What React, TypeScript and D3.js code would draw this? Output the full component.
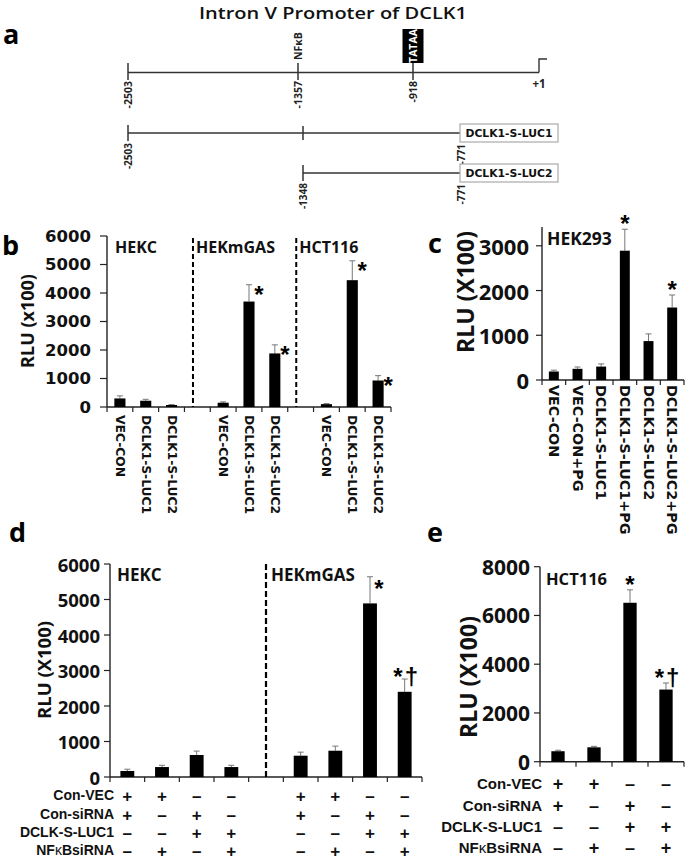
import React from "react";
import * as d3 from "d3";

const OS = "'Open Sans', sans-serif";
const DJ = "'DejaVu Sans', sans-serif";
const LS = "'Liberation Sans', Arial, sans-serif";

// ---------- Panel a data ----------
const titleText = "Intron V Promoter of DCLK1";
const mapPositions = [-2503, -1357, -1348, -918, -771, 1];
const mainSites = [
  { pos: -2503, label: "-2503" },
  { pos: -1357, label: "-1357" },
  { pos: -918, label: "-918" },
];
const tssLabel = "+1";
const nfkbLabel = "NFκB";
const tataLabel = "TATAA";
const constructNames = ["DCLK1-S-LUC1", "DCLK1-S-LUC2"];
const constructStarts = [-2503, -1348];
const constructEnds = [-771, -771];
const constructMids = [-1348, null];

// ---------- Panel b data ----------
const bGroups = ["HEKC", "HEKmGAS", "HCT116"];
const bConstructs = ["VEC-CON", "DCLK1-S-LUC1", "DCLK1-S-LUC2"];
const bValues = [
  [300, 220, 70],
  [150, 3700, 1880],
  [100, 4450, 930],
];
const bErrors = [
  [90, 50, 15],
  [30, 590, 300],
  [20, 680, 170],
];
const bMarks = [
  ["", "", ""],
  ["", "*", "*"],
  ["", "*", "*"],
];
const bTicks = [0, 1000, 2000, 3000, 4000, 5000, 6000];
const bYTitle = "RLU (x100)";

// ---------- Panel c data ----------
const cCategories = ["VEC-CON", "VEC-CON+PG", "DCLK1-S-LUC1", "DCLK1-S-LUC1+PG", "DCLK1-S-LUC2", "DCLK1-S-LUC2+PG"];
const cValues = [190, 250, 300, 2890, 870, 1620];
const cErrors = [30, 40, 60, 480, 160, 280];
const cMarks = ["", "", "", "*", "", "*"];
const cTicks = [0, 1000, 2000, 3000];
const cAxisMax = 3420;
const cGroup = "HEK293";
const cYTitle = "RLU (X100)";

// ---------- Panel d data ----------
const dGroups = ["HEKC", "HEKmGAS"];
const dValues = [
  [170, 280, 620, 280],
  [600, 740, 4890, 2400],
];
const dErrors = [
  [50, 50, 110, 50],
  [100, 130, 750, 360],
];
const dMarks = [
  ["", "", "", ""],
  ["", "", "*", "*†"],
];
const dTicks = [0, 1000, 2000, 3000, 4000, 5000, 6000];
const dYTitle = "RLU (X100)";

// ---------- Panel e data ----------
const eGroup = "HCT116";
const eValues = [430, 590, 6520, 2960];
const eErrors = [40, 40, 530, 270];
const eMarks = ["", "", "*", "*†"];
const eTicks = [0, 2000, 4000, 6000, 8000];
const eYTitle = "RLU (X100)";

// ---------- condition table (d and e) ----------
const conditionLabels = ["Con-VEC", "Con-siRNA", "DCLK-S-LUC1", "NFκBsiRNA"];
const conditionSigns = [
  ["+", "+", "–", "–"],
  ["+", "–", "+", "–"],
  ["–", "–", "+", "+"],
  ["–", "+", "–", "+"],
];

const AX = "#222";
const ERR = "#777";

function PanelA() {
  const xA = d3.scaleLinear().domain(mapPositions).range([128, 298, 303, 413, 460, 539]);
  const yMain = 72.5;
  const yC = [133, 173];
  const xEnd = xA(1);
  return (
    <g>
      <text x={333} y={19} textAnchor="middle" fontFamily={OS} fontWeight={600} fontSize={17} fill="#111" textLength={268} lengthAdjust="spacingAndGlyphs">
        {titleText}
      </text>
      <text x={3} y={44} fontFamily={OS} fontWeight={700} fontSize={27} fill="#000">a</text>
      <line x1={xA(-2503)} x2={xEnd} y1={yMain} y2={yMain} stroke="#333" strokeWidth={1.7} />
      <polyline points={`${xEnd},${yMain} ${xEnd},59 ${xEnd + 8},59`} fill="none" stroke="#333" strokeWidth={1.4} />
      {mainSites.map((s, i) => {
        const x = xA(s.pos);
        return (
          <g key={i}>
            <line x1={x} x2={x} y1={63} y2={80} stroke="#333" strokeWidth={1.5} />
            <text transform={`translate(${x},${81}) rotate(-90)`} textAnchor="end" dominantBaseline="central" fontFamily={OS} fontWeight={700} fontSize={10.5} fill="#222">
              {s.label}
            </text>
          </g>
        );
      })}
      <text transform={`translate(${xA(-1357)},${60}) rotate(-90)`} textAnchor="start" dominantBaseline="central" fontFamily={OS} fontWeight={700} fontSize={10.5} fill="#222">
        {nfkbLabel}
      </text>
      <rect x={xA(-918) - 10.5} y={29} width={21} height={34} fill="#000" />
      <text transform={`translate(${xA(-918)},${46}) rotate(-90)`} textAnchor="middle" dominantBaseline="central" fontFamily={OS} fontWeight={700} fontSize={10.5} fill="#fff">
        {tataLabel}
      </text>
      <text x={xEnd} y={88} textAnchor="middle" fontFamily={OS} fontWeight={700} fontSize={11.5} fill="#222">{tssLabel}</text>
      {constructNames.map((name, i) => {
        const y = yC[i];
        const x0 = xA(constructStarts[i]);
        const x1 = xA(constructEnds[i]);
        const mid = constructMids[i];
        return (
          <g key={name}>
            <line x1={x0} x2={x1} y1={y} y2={y} stroke="#333" strokeWidth={1.5} />
            <line x1={x0} x2={x0} y1={y - 8} y2={y + 8} stroke="#333" strokeWidth={1.5} />
            {mid !== null && <line x1={xA(mid)} x2={xA(mid)} y1={y - 7} y2={y + 7} stroke="#333" strokeWidth={1.5} />}
            <rect x={x1} y={y - 9} width={98} height={18} fill="#fff" stroke="#aaa" strokeWidth={1.2} />
            <text x={x1 + 49} y={y} textAnchor="middle" dominantBaseline="central" fontFamily={DJ} fontWeight={700} fontSize={10.8} fill="#111">
              {name}
            </text>
            <text transform={`translate(${x0},${y + 10}) rotate(-90)`} textAnchor="end" dominantBaseline="central" fontFamily={OS} fontWeight={700} fontSize={10} fill="#222">
              {String(constructStarts[i])}
            </text>
            <text transform={`translate(${x1 + 1},${y + 11}) rotate(-90)`} textAnchor="end" dominantBaseline="central" fontFamily={OS} fontWeight={700} fontSize={10} fill="#222">
              {String(constructEnds[i])}
            </text>
          </g>
        );
      })}
    </g>
  );
}

function ErrorBar({ cx, y0, y1, cap = 3 }: { cx: number; y0: number; y1: number; cap?: number }) {
  return (
    <g>
      <line x1={cx} x2={cx} y1={y0} y2={y1} stroke={ERR} strokeWidth={1} />
      <line x1={cx - cap} x2={cx + cap} y1={y1} y2={y1} stroke={ERR} strokeWidth={1} />
    </g>
  );
}

function Mark({ text, x, y, fs = 24 }: { text: string; x: number; y: number; fs?: number }) {
  if (!text) return null;
  return (
    <text x={x} y={y + 0.55 * fs} textAnchor="middle" fontFamily={LS} fontWeight={700} fontSize={fs} fill="#000">
      {text.split("").map((ch, i) =>
        ch === "†" ? (
          <tspan key={i} dx={2}>
            {ch}
          </tspan>
        ) : (
          <tspan key={i}>{ch}</tspan>
        )
      )}
    </text>
  );
}

function PanelB() {
  const nSlots = bGroups.length * (bConstructs.length + 1) - 1;
  const x = d3.scaleBand<number>().domain(d3.range(nSlots)).range([107, 391]);
  const y = d3.scaleLinear().domain([0, 6000]).range([407, 236]);
  const bw = x.bandwidth();
  const barW = bw * 0.43;
  const ticksX = d3.range(nSlots + 1).map((i) => 107 + i * bw);
  return (
    <g>
      <text x={2} y={255} fontFamily={OS} fontWeight={700} fontSize={27} fill="#000">b</text>
      <text transform={`translate(${27},${321}) rotate(-90)`} textAnchor="middle" dominantBaseline="central" fontFamily={OS} fontWeight={700} fontSize={18} fill="#111">
        {bYTitle}
      </text>
      {bTicks.map((t) => (
        <g key={t}>
          <line x1={100} x2={107} y1={y(t)} y2={y(t)} stroke={AX} strokeWidth={1.2} />
          <text x={91} y={y(t)} textAnchor="end" dominantBaseline="central" fontFamily={DJ} fontWeight={700} fontSize={16.5} fill="#111">
            {t}
          </text>
        </g>
      ))}
      <line x1={107} x2={107} y1={y(6000)} y2={y(0)} stroke={AX} strokeWidth={1.4} />
      <line x1={107} x2={391} y1={y(0)} y2={y(0)} stroke={AX} strokeWidth={1.4} />
      {ticksX.map((tx, i) => (
        <line key={i} x1={tx} x2={tx} y1={y(0)} y2={y(0) + 5} stroke={AX} strokeWidth={1.2} />
      ))}
      {bGroups.map((g, gi) => {
        const base = gi * (bConstructs.length + 1);
        return (
          <g key={g}>
            {gi > 0 && (
              <line x1={x(base - 1)! + bw * 0.33} x2={x(base - 1)! + bw * 0.33} y1={y(6000) + 2} y2={y(0)} stroke="#000" strokeWidth={2} strokeDasharray="5,3" />
            )}
            <text x={gi === 0 ? 115 : x(base - 1)! + bw * 0.33 + 3} y={247} dominantBaseline="central" fontFamily={OS} fontWeight={700} fontSize={16} fill="#111">
              {g}
            </text>
            {bConstructs.map((c, ci) => {
              const cx = x(base + ci)! + bw / 2;
              const v = bValues[gi][ci];
              const e = bErrors[gi][ci];
              const mark = bMarks[gi][ci];
              return (
                <g key={c}>
                  <ErrorBar cx={cx} y0={y(v)} y1={y(v + e)} />
                  <rect x={cx - barW / 2} y={y(v)} width={barW} height={y(0) - y(v)} fill="#000" />
                  <Mark text={mark} x={cx + 10} y={y(v + e) + 5} fs={24} />
                  <text transform={`translate(${cx},${415}) rotate(90)`} textAnchor="start" dominantBaseline="central" fontFamily={DJ} fontWeight={700} fontSize={12.3} fill="#111">
                    {c}
                  </text>
                </g>
              );
            })}
          </g>
        );
      })}
    </g>
  );
}

function PanelC() {
  const x = d3.scaleBand<number>().domain(d3.range(cCategories.length)).range([542, 684]);
  const y = d3.scaleLinear().domain([0, cAxisMax]).range([380, 227]);
  const bw = x.bandwidth();
  const barW = bw * 0.42;
  const x0 = 542;
  return (
    <g>
      <text x={428} y={253} fontFamily={OS} fontWeight={700} fontSize={27} fill="#000">c</text>
      <text transform={`translate(${465},${292}) rotate(-90)`} textAnchor="middle" dominantBaseline="central" fontFamily={OS} fontWeight={700} fontSize={23} fill="#111">
        {cYTitle}
      </text>
      {cTicks.map((t) => (
        <g key={t}>
          <line x1={x0 - 6} x2={x0} y1={y(t)} y2={y(t)} stroke={AX} strokeWidth={1.2} />
          <text x={529} y={y(t)} textAnchor="end" dominantBaseline="central" fontFamily={OS} fontWeight={700} fontSize={22} fill="#111">
            {t}
          </text>
        </g>
      ))}
      <line x1={x0} x2={x0} y1={y(cAxisMax)} y2={y(0)} stroke={AX} strokeWidth={1.4} />
      <line x1={x0} x2={684} y1={y(0)} y2={y(0)} stroke={AX} strokeWidth={1.4} />
      {d3.range(cCategories.length + 1).map((i) => (
        <line key={i} x1={x0 + i * bw} x2={x0 + i * bw} y1={y(0)} y2={y(0) + 5} stroke={AX} strokeWidth={1.2} />
      ))}
      <text x={547} y={238} dominantBaseline="central" fontFamily={OS} fontWeight={700} fontSize={17.5} fill="#111">
        {cGroup}
      </text>
      {cCategories.map((c, i) => {
        const cx = x(i)! + bw / 2;
        const v = cValues[i];
        const e = cErrors[i];
        return (
          <g key={c}>
            <ErrorBar cx={cx} y0={y(v)} y1={y(v + e)} />
            <rect x={cx - barW / 2} y={y(v)} width={barW} height={y(0) - y(v)} fill="#000" />
            <Mark text={cMarks[i]} x={cx} y={y(v + e) - 10} fs={24} />
            <text transform={`translate(${cx},${385}) rotate(90)`} textAnchor="start" dominantBaseline="central" fontFamily={DJ} fontWeight={700} fontSize={14.3} fill="#111">
              {c}
            </text>
          </g>
        );
      })}
    </g>
  );
}

function ConditionTable({ centers, labelX, rowsY, fs, signFs }: { centers: number[]; labelX: number; rowsY: number[]; fs: number; signFs: number }) {
  const ncol = conditionSigns[0].length;
  return (
    <g>
      {conditionLabels.map((lab, r) => (
        <g key={lab}>
          <text x={labelX} y={rowsY[r]} textAnchor="end" dominantBaseline="central" fontFamily={LS} fontWeight={700} fontSize={fs} fill="#111">
            {lab.includes("κ") ? (
              <>
                {"NF"}
                <tspan fontWeight={400}>κ</tspan>
                {"BsiRNA"}
              </>
            ) : (
              lab
            )}
          </text>
          {centers.map((cx, k) => (
            <text key={k} x={cx} y={rowsY[r] + 1} textAnchor="middle" dominantBaseline="central" fontFamily={LS} fontWeight={700} fontSize={signFs} fill="#111">
              {conditionSigns[r][k % ncol]}
            </text>
          ))}
        </g>
      ))}
    </g>
  );
}

function PanelD() {
  const per = dValues[0].length;
  const nSlots = dGroups.length * (per + 1) - 1;
  const x = d3.scaleBand<number>().domain(d3.range(nSlots)).range([110, 422]);
  const y = d3.scaleLinear().domain([0, 6000]).range([777, 564]);
  const bw = x.bandwidth();
  const barW = bw * 0.4;
  const centers: number[] = [];
  dGroups.forEach((g, gi) => dValues[gi].forEach((_, ci) => centers.push(x(gi * (per + 1) + ci)! + bw / 2)));
  return (
    <g>
      <text x={9} y={542} fontFamily={OS} fontWeight={700} fontSize={27} fill="#000">d</text>
      <text transform={`translate(${43},${670}) rotate(-90)`} textAnchor="middle" dominantBaseline="central" fontFamily={OS} fontWeight={700} fontSize={18.5} fill="#111">
        {dYTitle}
      </text>
      {dTicks.map((t) => (
        <g key={t}>
          <line x1={104} x2={110} y1={y(t)} y2={y(t)} stroke={AX} strokeWidth={1.2} />
          <text x={100} y={y(t)} textAnchor="end" dominantBaseline="central" fontFamily={OS} fontWeight={700} fontSize={18.5} fill="#111">
            {t}
          </text>
        </g>
      ))}
      <line x1={110} x2={110} y1={y(6000)} y2={y(0)} stroke={AX} strokeWidth={1.4} />
      <line x1={110} x2={422} y1={y(0)} y2={y(0)} stroke={AX} strokeWidth={1.4} />
      {d3.range(nSlots + 1).map((i) => (
        <line key={i} x1={110 + i * bw} x2={110 + i * bw} y1={y(0)} y2={y(0) + 5} stroke={AX} strokeWidth={1.2} />
      ))}
      {dGroups.map((g, gi) => {
        const base = gi * (per + 1);
        const dashX = gi > 0 ? x(base - 1)! + bw / 2 : 0;
        return (
          <g key={g}>
            {gi > 0 && <line x1={dashX} x2={dashX} y1={y(6000)} y2={y(0)} stroke="#000" strokeWidth={2.2} strokeDasharray="6,3" />}
            <text x={gi === 0 ? 117 : dashX + 5} y={574} dominantBaseline="central" fontFamily={OS} fontWeight={700} fontSize={17} fill="#111">
              {g}
            </text>
            {dValues[gi].map((v, ci) => {
              const cx = x(base + ci)! + bw / 2;
              const e = dErrors[gi][ci];
              const m = dMarks[gi][ci];
              const top = y(v + e);
              return (
                <g key={ci}>
                  <ErrorBar cx={cx} y0={y(v)} y1={top} />
                  <rect x={cx - barW / 2} y={y(v)} width={barW} height={y(0) - y(v)} fill="#000" />
                  {m.includes("†") ? <Mark text={m} x={cx + 1} y={top - 7} fs={24} /> : <Mark text={m} x={cx + 9} y={top + 7} fs={24} />}
                </g>
              );
            })}
          </g>
        );
      })}
      <ConditionTable centers={centers} labelX={114} rowsY={[795, 814, 832, 850]} fs={14} signFs={17} />
    </g>
  );
}

function PanelE() {
  const x = d3.scaleBand<number>().domain(d3.range(eValues.length)).range([540, 684]);
  const y = d3.scaleLinear().domain([0, 8000]).range([761.7, 566.7]);
  const bw = x.bandwidth();
  const barW = bw * 0.37;
  const centers = eValues.map((_, i) => x(i)! + bw / 2);
  return (
    <g>
      <text x={427} y={542} fontFamily={OS} fontWeight={700} fontSize={27} fill="#000">e</text>
      <text transform={`translate(${468},${677}) rotate(-90)`} textAnchor="middle" dominantBaseline="central" fontFamily={OS} fontWeight={700} fontSize={23} fill="#111">
        {eYTitle}
      </text>
      {eTicks.map((t) => (
        <g key={t}>
          <line x1={534} x2={540} y1={y(t)} y2={y(t)} stroke={AX} strokeWidth={1.2} />
          <text x={530} y={y(t)} textAnchor="end" dominantBaseline="central" fontFamily={OS} fontWeight={700} fontSize={21} fill="#111">
            {t}
          </text>
        </g>
      ))}
      <line x1={540} x2={540} y1={y(8000)} y2={y(0)} stroke={AX} strokeWidth={1.4} />
      <line x1={540} x2={684} y1={y(0)} y2={y(0)} stroke={AX} strokeWidth={1.4} />
      {d3.range(eValues.length + 1).map((i) => (
        <line key={i} x1={540 + i * bw} x2={540 + i * bw} y1={y(0)} y2={y(0) + 5} stroke={AX} strokeWidth={1.2} />
      ))}
      <text x={546} y={578} dominantBaseline="central" fontFamily={OS} fontWeight={700} fontSize={16.5} fill="#111">
        {eGroup}
      </text>
      {eValues.map((v, i) => {
        const cx = centers[i];
        const e = eErrors[i];
        const top = y(v + e);
        return (
          <g key={i}>
            <ErrorBar cx={cx} y0={y(v)} y1={top} />
            <rect x={cx - barW / 2} y={y(v)} width={barW} height={y(0) - y(v)} fill="#000" />
            <Mark text={eMarks[i]} x={cx + (eMarks[i].includes("†") ? 1 : 0)} y={top - 10} fs={24} />
          </g>
        );
      })}
      <ConditionTable centers={centers} labelX={542} rowsY={[783, 805, 826, 847]} fs={15} signFs={18} />
    </g>
  );
}

export default function App() {
  return (
    <svg width={685} height={859} viewBox="0 0 685 859" style={{ position: "absolute", left: 0, top: 0, background: "#fff" }}>
      <rect x={0} y={0} width={685} height={859} fill="#fff" />
      <PanelA />
      <PanelB />
      <PanelC />
      <PanelD />
      <PanelE />
    </svg>
  );
}
